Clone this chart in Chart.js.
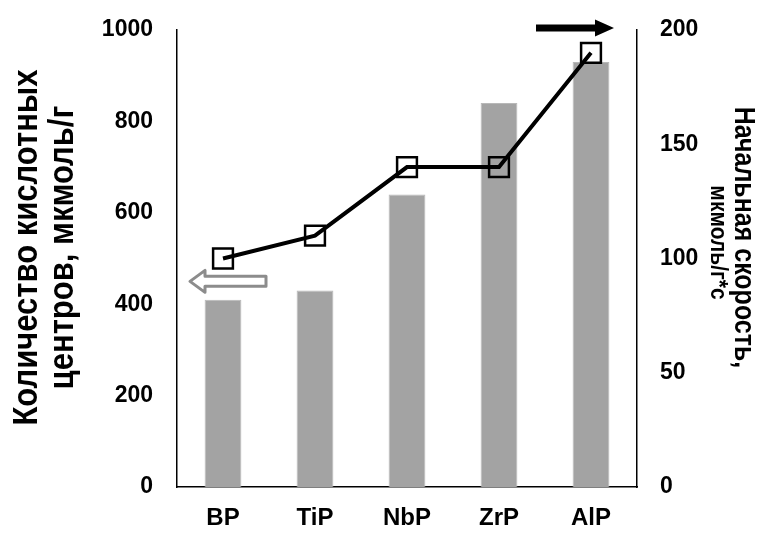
<!DOCTYPE html>
<html>
<head>
<meta charset="utf-8">
<script src="https://cdn.jsdelivr.net/npm/chart.js@4"></script>
<style>
  body { margin: 0; background: #fff; }
  canvas { display: block; }
</style>
</head>
<body>
<canvas id="acidChart" width="769" height="535"></canvas>
<script>
 // categories and values
 var catalysts = ["BP", "TiP", "NbP", "ZrP", "AlP"];
 var acidSites = [410, 430, 640, 840, 930];      // мкмоль/г, left axis
 var initialRate = [100, 110, 140, 140, 190];    // мкмоль/г*с, right axis
 var leftTicks = [0, 200, 400, 600, 800, 1000];
 var rightTicks = [0, 50, 100, 150, 200];

 var leftTitle = ["Количество кислотных", "центров, мкмоль/г"];
 var rightTitle = ["Начальная скорость,", "мкмоль/г*с"];

 Chart.defaults.font.family = "'Liberation Sans', Arial, sans-serif";
 Chart.defaults.color = '#000';

 // rotated title text, a little widened across its height like the original
 function drawText(ctx, text, x, y, rot, font) {
   ctx.save();
   ctx.translate(x, y);
   ctx.rotate(rot);
   ctx.scale(1, 1.15);
   ctx.font = font;
   ctx.fillStyle = '#000';
   ctx.textAlign = 'center';
   ctx.textBaseline = 'middle';
   ctx.fillText(text, 0, 0);
   ctx.restore();
 }

 // axis titles and the two arrows pointing at the axes
 var extras = {
   id: 'extras',
   afterDraw: function (chart) {
     var ctx = chart.ctx;
     var area = chart.chartArea;
     var xs = chart.scales.x;
     var ys = chart.scales.y;
     var midY = (area.top + area.bottom) / 2;

     drawText(ctx, leftTitle[0], 27, midY - 11, -Math.PI / 2, 'bold 31px "Liberation Sans", Arial');
     drawText(ctx, leftTitle[1], 63, midY - 11, -Math.PI / 2, 'bold 31px "Liberation Sans", Arial');
     drawText(ctx, rightTitle[0], 743, midY - 21, Math.PI / 2, 'bold 25px "Liberation Sans", Arial');
     drawText(ctx, rightTitle[1], 718, midY - 16, Math.PI / 2, 'bold 21px "Liberation Sans", Arial');

     // hollow arrow -> left axis
     var ay = ys.getPixelForValue(450);
     var tip = area.left + 13;
     var tail = xs.getPixelForValue(0) + 43;
     ctx.save();
     ctx.beginPath();
     ctx.moveTo(tip, ay);
     ctx.lineTo(tip + 15, ay - 11);
     ctx.lineTo(tip + 15, ay - 5);
     ctx.lineTo(tail, ay - 5);
     ctx.lineTo(tail, ay + 5);
     ctx.lineTo(tip + 15, ay + 5);
     ctx.lineTo(tip + 15, ay + 11);
     ctx.closePath();
     ctx.fillStyle = '#fff';
     ctx.fill();
     ctx.lineWidth = 3;
     ctx.lineJoin = 'round';
     ctx.strokeStyle = '#8c8c8c';
     ctx.stroke();

     // black arrow -> right axis
     var by = area.top - 2;
     var bc = xs.getPixelForValue(4);
     var btail = bc - 55;
     var btip = bc + 23;
     ctx.beginPath();
     ctx.moveTo(btip, by);
     ctx.lineTo(btip - 19, by - 8.5);
     ctx.lineTo(btip - 19, by - 3.5);
     ctx.lineTo(btail, by - 3.5);
     ctx.lineTo(btail, by + 3.5);
     ctx.lineTo(btip - 19, by + 3.5);
     ctx.lineTo(btip - 19, by + 8.5);
     ctx.closePath();
     ctx.fillStyle = '#000';
     ctx.fill();
     ctx.restore();
   }
 };

 function plain(v) { return String(v); }

 // fixed axis widths, and no extra top/bottom padding from the tick labels
 function fitSide(width) {
   return function (s) {
     s.width = width;
     s.paddingTop = 0;
     s.paddingBottom = 0;
   };
 }

 var ctxacid = document.getElementById("acidChart");
 var acidChart = new Chart(ctxacid, {
   type: 'bar',
   data: {
     labels: catalysts,
     datasets: [{
       type: 'line',
       label: 'Начальная скорость',
       data: initialRate,
       yAxisID: 'y1',
       borderColor: '#000',
       borderWidth: 4,
       pointStyle: 'rect',
       pointRadius: 14,
       pointBorderWidth: 2.5,
       pointBorderColor: '#000',
       pointBackgroundColor: 'rgba(0,0,0,0)',
       order: 0,
     }, {
       label: 'Количество кислотных центров',
       data: acidSites,
       yAxisID: 'y',
       backgroundColor: '#a3a3a3',
       borderColor: '#b8b8b8',
       borderWidth: 1,
       barPercentage: 0.4,
       categoryPercentage: 1,
       order: 1,
     }],
   },
   options: {
     responsive: false,
     animation: false,
     devicePixelRatio: 1,
     layout: { autoPadding: false, padding: { top: 30, left: 0, right: 0, bottom: 0 } },
     plugins: {
       legend: { display: false },
       tooltip: { enabled: false },
     },
     scales: {
       x: {
         grid: { display: false, drawTicks: false },
         border: { color: '#000', width: 1.5 },
         ticks: { font: { size: 24, weight: 'bold' }, padding: 17 },
         afterFit: function (s) { s.height = 48; },
       },
       y: {
         position: 'left',
         min: 0,
         max: 1000,
         grid: { display: false, drawTicks: false },
         border: { color: '#000', width: 1.5 },
         afterBuildTicks: function (s) { s.ticks = leftTicks.map(function (v) { return { value: v }; }); },
         ticks: { font: { size: 23, weight: 'bold' }, padding: 24, callback: plain },
         afterFit: fitSide(177),
       },
       y1: {
         position: 'right',
         min: 0,
         max: 200,
         grid: { display: false, drawTicks: false },
         border: { color: '#000', width: 1.5 },
         afterBuildTicks: function (s) { s.ticks = rightTicks.map(function (v) { return { value: v }; }); },
         ticks: { font: { size: 23, weight: 'bold' }, padding: 23, callback: plain },
         afterFit: fitSide(132),
       },
     },
   },
   plugins: [extras],
 });
</script>
</body>
</html>
